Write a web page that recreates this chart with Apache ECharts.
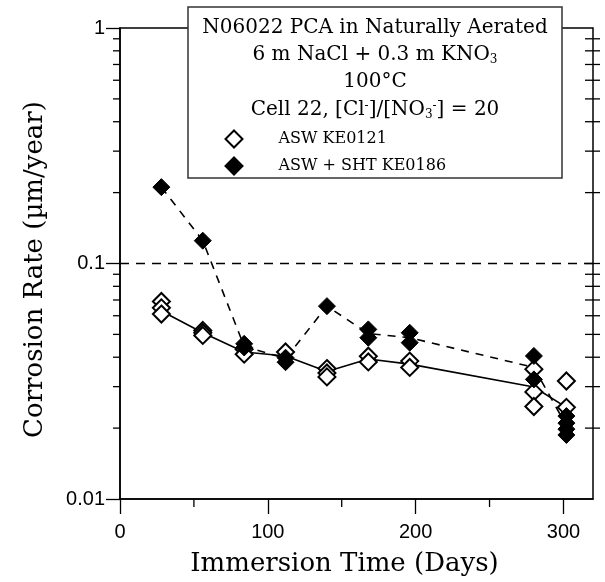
<!DOCTYPE html>
<html>
<head>
<meta charset="utf-8">
<script src="https://cdn.jsdelivr.net/npm/echarts@6/dist/echarts.min.js"></script>
<style>
html,body{margin:0;padding:0;background:#fff;}
#chart{width:605px;height:582px;}
</style>
</head>
<body>
<div id="chart"></div>
<script>
// ---- data ----
const openDays   = [28, 28, 28, 56, 56, 56, 84, 84, 112, 140, 140, 140, 168, 168, 196, 196, 280, 280, 280, 302, 302];
const openVals   = [0.0690, 0.0648, 0.0610, 0.0520, 0.0508, 0.0495, 0.0432, 0.0412, 0.0421, 0.0358, 0.0343, 0.0330, 0.0404, 0.0382, 0.0385, 0.0362, 0.0356, 0.0285, 0.0247, 0.0317, 0.0245];
const filledDays = [28, 56, 84, 84, 112, 112, 140, 168, 168, 196, 196, 280, 280, 302, 302, 302, 302];
const filledVals = [0.211, 0.125, 0.0456, 0.0440, 0.0398, 0.0381, 0.0659, 0.0525, 0.0484, 0.0508, 0.0461, 0.0405, 0.0322, 0.0225, 0.0210, 0.0198, 0.0187];
const lineDays   = [28, 56, 84, 112, 140, 168, 196, 280, 302];
const openLine   = [0.0628, 0.0508, 0.0421, 0.0405, 0.0348, 0.0393, 0.0374, 0.0299, 0.0245];
const filledLine = [0.211, 0.125, 0.0445, 0.0395, 0.0659, 0.0504, 0.0484, 0.0362, 0.0205];
const xTickVals = [0, 100, 200, 300];
const xMinorTickVals = [50, 150, 250];
const minorTickVals = [0.02,0.03,0.04,0.05,0.06,0.07,0.08,0.09,0.2,0.3,0.4,0.5,0.6,0.7,0.8,0.9];
const rightTickVals = [0.02,0.03,0.04,0.05,0.06,0.07,0.08,0.09,0.1,0.2,0.3,0.4,0.5,0.6,0.7,0.8,0.9];
const refLineVal = 0.1;
const seriesNames = ['ASW KE0121', 'ASW + SHT KE0186'];
const titleLines = [
  'N06022 PCA in Naturally Aerated',
  '6 m NaCl + 0.3 m KNO{sub|3}',
  '100°C',
  'Cell 22, [Cl{sup|-}]/[NO{sub|3}{sup|-}] = 20'
];
const xMin = 0, xMax = 320, xInterval = 100;
const yMin = 0.01, yMax = 1;

const SERIF = '"DejaVu Serif", "Liberation Serif", serif';
const SANS = '"Liberation Sans", Arial, sans-serif';

const zip = (a, b) => a.map((v, i) => [v, b[i]]);

const chart = echarts.init(document.getElementById('chart'), null, {renderer: 'canvas'});

function yTickRender(side) {
  return function (params, api) {
    const v = api.value(1);
    const p = api.coord([side === 'left' ? xMin : xMax, v]);
    const x1 = side === 'left' ? p[0] - 7 : p[0] - 8;
    const x2 = side === 'left' ? p[0] : p[0] + 7;
    return {
      type: 'line',
      shape: {x1: x1, y1: p[1], x2: x2, y2: p[1]},
      style: {stroke: '#000', lineWidth: 1.3}
    };
  };
}
function xMinorRender(params, api) {
  const p = api.coord([api.value(0), yMin]);
  return {
    type: 'line',
    shape: {x1: p[0], y1: p[1], x2: p[0], y2: p[1] + 8},
    style: {stroke: '#000', lineWidth: 1.3}
  };
}

const rich = {
  sub: {fontFamily: SERIF, fontSize: 12, verticalAlign: 'bottom', padding: [9, 0, 0, 0], fill: '#000'},
  sup: {fontFamily: SERIF, fontSize: 12, verticalAlign: 'top', padding: [0, 0, 9, 0], fill: '#000'}
};

const titleY = [28, 55, 82, 110];
const graphics = [
  {
    type: 'rect', z: 100,
    shape: {x: 188, y: 7, width: 374, height: 171},
    style: {fill: '#fff', stroke: '#333', lineWidth: 1.5}
  }
].concat(titleLines.map((t, i) => ({
  type: 'text', z: 101,
  x: 375, y: titleY[i],
  style: {
    text: t, rich: rich,
    fontFamily: SERIF, fontSize: 20, fill: '#000',
    align: 'center', verticalAlign: 'middle'
  }
})));

const option = {
  animation: false,
  backgroundColor: '#fff',
  grid: {left: 120, right: 12, top: 28, bottom: 82, show: true, borderColor: '#000', borderWidth: 1.5, backgroundColor: 'transparent'},
  legend: {
    data: seriesNames,
    orient: 'vertical',
    left: 219.5, top: 124.5,
    itemWidth: 17, itemHeight: 17, itemGap: 8,
    z: 102,
    textStyle: {fontFamily: SERIF, fontSize: 16, color: '#000', padding: [0, 0, 0, 31]}
  },
  graphic: graphics,
  xAxis: {
    type: 'value', min: xMin, max: xMax, interval: xInterval,
    name: 'Immersion Time (Days)', nameLocation: 'middle', nameGap: 52,
    nameTextStyle: {fontFamily: SERIF, fontSize: 26, color: '#000', padding: [0, 24, 0, 0]},
    axisLine: {show: true, onZero: false, lineStyle: {color: '#000', width: 1.5}},
    axisTick: {show: true, inside: false, length: 15, customValues: xTickVals, lineStyle: {color: '#000', width: 1.3}},
    minorTick: {show: false},
    axisLabel: {fontFamily: SANS, fontSize: 20, color: '#000', margin: 23, customValues: xTickVals},
    splitLine: {show: false}
  },
  yAxis: {
    type: 'log', logBase: 10, min: yMin, max: yMax,
    name: 'Corrosion Rate (µm/year)', nameLocation: 'middle', nameGap: 72,
    nameTextStyle: {fontFamily: SERIF, fontSize: 26, color: '#000', padding: [0, 12, 0, 0]},
    axisLine: {show: true, lineStyle: {color: '#000', width: 1.5}},
    axisTick: {show: true, length: 14, lineStyle: {color: '#000', width: 1.3}},
    axisLabel: {fontFamily: SANS, fontSize: 20, color: '#000', margin: 15,
      formatter: v => String(+v.toPrecision(3))},
    splitLine: {show: false}
  },
  series: [
    {
      type: 'custom', name: 'leftMinor', silent: true, clip: false, z: 5,
      data: minorTickVals.map(v => [xMin, v]),
      renderItem: yTickRender('left')
    },
    {
      type: 'custom', name: 'rightTicks', silent: true, clip: false, z: 5,
      data: rightTickVals.map(v => [xMax, v]),
      renderItem: yTickRender('right')
    },
    {
      type: 'custom', name: 'xMinor', silent: true, clip: false, z: 5,
      data: xMinorTickVals.map(v => [v, yMin]),
      renderItem: xMinorRender
    },
    {
      type: 'line', name: 'openLine', data: zip(lineDays, openLine),
      showSymbol: false, symbol: 'none', z: 3,
      lineStyle: {color: '#000', width: 1.6, type: 'solid'},
      markLine: {
        silent: true, symbol: 'none', label: {show: false},
        lineStyle: {color: '#000', width: 1.3, type: [9, 7]},
        data: [{yAxis: refLineVal}]
      }
    },
    {
      type: 'line', name: 'filledLine', data: zip(lineDays, filledLine),
      showSymbol: false, symbol: 'none', z: 3,
      lineStyle: {color: '#000', width: 1.6, type: [8, 7]}
    },
    {
      type: 'scatter', name: seriesNames[0], data: zip(openDays, openVals),
      symbol: 'diamond', symbolSize: 17, z: 4,
      itemStyle: {color: '#fff', borderColor: '#000', borderWidth: 2, opacity: 1}
    },
    {
      type: 'scatter', name: seriesNames[1], data: zip(filledDays, filledVals),
      symbol: 'diamond', symbolSize: 17, z: 6,
      itemStyle: {color: '#000', borderColor: '#000', borderWidth: 1, opacity: 1}
    }
  ]
};
chart.setOption(option);
</script>
</body>
</html>
